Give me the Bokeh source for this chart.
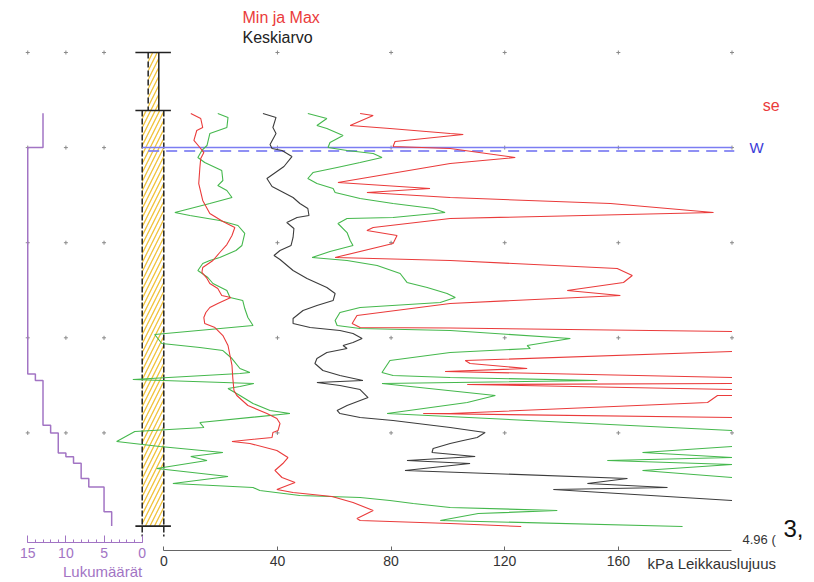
import numpy as np
from bokeh.plotting import figure
from bokeh.models import Range1d, LinearAxis, FixedTicker, SingleIntervalTicker, Label
from bokeh.embed import file_html
from bokeh.resources import INLINE

nan = float("nan")

# ---------------- data (kPa vs depth in m) ----------------
MEAN_KPA = [34.9, 39.5, 38.4, 39.5, 37.4, 38.1, 41.6, 45.1, 42.3, 36.3,
            38.1, 45.5, 47.9, 50.7, 51.1, 46.9, 43.3, 45.8, 45.5, 44.8,
            40.9, 38.8, 40.9, 45.5, 50.4, 57.4, 60.3, 59.6, 53.9, 49.0,
            45.5, 45.5, 51.5, 62.0, 66.6, 69.8, 66.6, 63.1, 64.5, 57.4,
            53.9, 53.2, 56.0, 62.0, 70.1, 53.9, 62.0, 69.1, 71.9, 64.5,
            61.0, 62.0, 69.1, 80.7, 100.8, 113.1, 110.3, 105.4, 100.8, 94.8,
            94.4, 109.6, 85.6, 107.8, 84.9, 163.2, 149.1, 177.3, 137.1, 200.0]
MEAN_DEPTH = [0.641, 0.683, 0.789, 0.852, 0.967, 1.009, 1.030, 1.094, 1.199, 1.325,
              1.409, 1.525, 1.588, 1.640, 1.714, 1.735, 1.788, 1.851, 1.945, 2.029,
              2.082, 2.135, 2.177, 2.292, 2.376, 2.471, 2.534, 2.608, 2.660, 2.713,
              2.797, 2.850, 2.892, 2.923, 2.955, 3.007, 3.049, 3.081, 3.113, 3.155,
              3.218, 3.270, 3.344, 3.396, 3.449, 3.470, 3.502, 3.544, 3.628, 3.712,
              3.764, 3.796, 3.838, 3.870, 3.943, 3.996, 4.048, 4.080, 4.111, 4.164,
              4.206, 4.248, 4.290, 4.322, 4.395, 4.479, 4.532, 4.574, 4.595, 4.711]

MIN_KPA = [9.5, 13.0, 13.7, 11.6, 10.6, 12.7, 14.1, 13.0, 12.7, 12.3,
           13.7, 16.2, 20.8, 25.0, 24.0, 22.2, 19.7, 17.3, 13.7, 13.4,
           15.2, 16.2, 19.0, 20.4, 23.6, 19.0, 16.2, 14.8, 14.1, 14.4,
           18.0, 20.8, 22.6, 23.3, 24.0, 24.3, 24.7, 25.7, 29.6, 36.3,
           39.8, 40.9, 40.2, 38.4, 38.1, 24.0, 30.3, 39.8, 43.7, 41.9,
           39.1, 41.6, 46.2, 39.8, 45.5, 59.2, 66.6, 73.7, 68.0, 69.1,
           100.8, 125.8]
MIN_DEPTH = [0.641, 0.694, 0.789, 0.820, 0.925, 0.999, 1.052, 1.115, 1.209, 1.378,
             1.556, 1.693, 1.777, 1.840, 1.924, 2.019, 2.103, 2.187, 2.261, 2.313,
             2.376, 2.429, 2.482, 2.555, 2.576, 2.639, 2.681, 2.734, 2.787, 2.850,
             2.892, 2.976, 3.081, 3.186, 3.291, 3.428, 3.554, 3.607, 3.712, 3.796,
             3.849, 3.901, 3.975, 3.996, 4.048, 4.090, 4.111, 4.185, 4.259, 4.322,
             4.395, 4.469, 4.522, 4.595, 4.627, 4.669, 4.732, 4.816, 4.900, 4.921,
             4.953, 4.984]

MAX_KPA = [69.1, 73.7, 68.0, 65.6, 79.6, 100.8, 105.4, 81.4, 80.7, 100.8,
           123.7, 100.8, 61.3, 93.7, 71.5, 100.8, 157.2, 193.5, 100.8, 73.7,
           71.5, 82.1, 80.7, 60.3, 100.8, 159.6, 164.9, 161.8, 142.0, 160.7,
           100.8, 68.0, 66.3, 69.1, 100.8, 200.0, nan, 200.0, 106.1, 107.8,
           127.9, 99.0, 200.0, nan, 200.0, 106.8, 200.0, nan, 200.0, 194.9,
           191.4, 100.8, 91.3, 200.0]
MAX_DEPTH = [0.641, 0.662, 0.736, 0.768, 0.799, 0.852, 0.862, 0.936, 0.988, 1.009,
             1.104, 1.167, 1.367, 1.430, 1.472, 1.525, 1.588, 1.682, 1.746, 1.840,
             1.872, 1.924, 2.008, 2.156, 2.187, 2.271, 2.345, 2.418, 2.503, 2.555,
             2.639, 2.765, 2.850, 2.892, 2.897, 2.934, nan, 3.144, 3.239, 3.270,
             3.323, 3.354, 3.417, nan, 3.481, 3.491, 3.544, nan, 3.607, 3.607,
             3.680, 3.796, 3.796, 3.838]

LOW_KPA = [19.0, 22.6, 22.2, 16.2, 15.2, 13.4, 12.0, 14.4, 20.4, 20.8,
           19.0, 22.2, 24.0, 16.2, 3.9, 9.2, 19.7, 26.1, 28.5, 27.5,
           25.4, 19.7, 16.2, 13.7, 12.0, 15.5, 17.3, 22.2, 23.3, 27.8,
           28.5, 29.6, 31.4, -3.2, -0.7, 12.7, 20.8, 24.0, 26.8, 30.3,
           26.8, -10.9, 31.7, 26.8, 22.6, 26.8, 31.4, 37.4, 44.4, 12.7,
           14.1, -10.2, -16.6, -1.4, 20.8, 9.5, 15.2, -2.5, 22.6, 3.2,
           31.4, 33.8, 47.9, 69.1, 79.6, 87.8, 100.8, 138.5, 110.7, 97.3,
           182.6]
LOW_DEPTH = [0.641, 0.683, 0.789, 0.852, 0.978, 1.030, 1.104, 1.157, 1.241, 1.346,
             1.399, 1.451, 1.525, 1.588, 1.682, 1.714, 1.767, 1.819, 1.903, 2.029,
             2.082, 2.156, 2.187, 2.219, 2.292, 2.366, 2.429, 2.503, 2.576, 2.608,
             2.692, 2.787, 2.871, 2.965, 3.060, 3.102, 3.134, 3.218, 3.323, 3.365,
             3.375, 3.438, 3.481, 3.512, 3.533, 3.607, 3.691, 3.764, 3.796, 3.891,
             3.943, 3.985, 4.090, 4.143, 4.206, 4.248, 4.290, 4.374, 4.458, 4.532,
             4.574, 4.606, 4.658, 4.679, 4.711, 4.742, 4.784, 4.816, 4.848, 4.921,
             4.984]

HIGH_KPA = [50.7, 57.4, 53.9, 57.4, 63.1, 58.5, 57.8, 64.5, 73.7, 76.8,
            69.1, 61.0, 52.5, 50.7, 53.9, 59.6, 60.3, 69.1, 80.7, 94.8,
            99.0, 80.7, 64.5, 61.3, 64.5, 65.6, 66.6, 58.5, 52.2, 64.5,
            75.1, 83.2, 85.6, 92.7, 99.7, 102.6, 97.3, 69.1, 62.0, 60.3,
            61.0, 69.1, 100.8, 143.1, 127.9, 129.0, 100.8, 79.6, 76.8, 80.7,
            100.8, 152.6, 76.8, 116.7, 106.8, 78.6, 200.0, nan, 200.0, 168.5,
            200.0, 156.1, 200.0, 168.5, 200.0]
HIGH_DEPTH = [0.641, 0.694, 0.768, 0.799, 0.873, 0.946, 0.999, 1.030, 1.062, 1.104,
              1.157, 1.209, 1.262, 1.325, 1.377, 1.430, 1.472, 1.535, 1.588, 1.640,
              1.682, 1.735, 1.746, 1.798, 1.893, 1.977, 2.029, 2.092, 2.156, 2.187,
              2.240, 2.324, 2.418, 2.471, 2.534, 2.576, 2.629, 2.681, 2.734, 2.818,
              2.871, 2.902, 2.923, 3.007, 3.081, 3.113, 3.155, 3.239, 3.365, 3.396,
              3.417, 3.449, 3.481, 3.607, 3.680, 3.796, 3.975, nan, 4.143, 4.206,
              4.259, 4.290, 4.332, 4.395, 4.469]

# number of soundings per depth interval
COUNT_DEPTH = [0.64, 1.00, 3.38, 3.45, 3.92, 4.00, 4.21, 4.25, 4.32, 4.48, 4.57, 4.83, 4.98]
COUNT_N = [13, 15, 14, 13, 12, 11, 10, 9, 8, 7, 5, 4]

KPA_TICKS = [0, 40, 80, 120, 160]
GRID_KPA = [40, 80, 120, 160, 200]
GRID_COUNT = [5, 10, 15]
GRID_DEPTH = [0, 1, 2, 3, 4]

WATER_DEPTH = 1.0
CASING_TOP = 0.0
SOIL_TOP = 0.61
BOTTOM_DEPTH = 4.98
BOTTOM_LABEL = "4.96 ("
KPA_MAX = 200.0

# ---------------- styles / layout ----------------
RED = "#ea3b3b"
GREEN = "#45b84d"
BLACK = "#3c3c3c"
BLUE = "#7b7df2"
PURPLE = "#a274c4"
HATCH = "#f0c23a"
FONT = "Liberation Sans"

COL_X0, COL_X1 = -7.6, 0.0        # soil column (kPa units)
CAS_X0, CAS_X1 = -5.5, -1.76      # upper casing
CAP_X0, CAP_X1 = -10.0, 2.5
EDGE_END = 5.09

def arr(v):
    return np.array(v, dtype=float)

p = figure(width=814, height=582,
           x_range=Range1d(-57.48, 229.04), y_range=Range1d(5.573, -0.5468),
           output_backend="svg", toolbar_location=None,
           x_axis_location=None, y_axis_location=None,
           min_border_left=0, min_border_right=0, min_border_top=0, min_border_bottom=0)
p.extra_x_ranges = {"count": Range1d(18.57, -88.11)}
p.outline_line_color = None
p.xgrid.visible = False
p.ygrid.visible = False
p.background_fill_color = "white"
p.border_fill_color = "white"

# soil column with hatch
p.quad(left=[COL_X0], right=[COL_X1], top=[SOIL_TOP], bottom=[BOTTOM_DEPTH],
       fill_color="white", line_color=None, hatch_pattern="/", hatch_color=HATCH,
       hatch_scale=9, hatch_weight=1.3)
p.quad(left=[CAS_X0], right=[CAS_X1], top=[CASING_TOP], bottom=[SOIL_TOP],
       fill_color="white", line_color=None, hatch_pattern="/", hatch_color=HATCH,
       hatch_scale=9, hatch_weight=1.3)
p.segment(x0=[COL_X0, COL_X1], y0=[SOIL_TOP, SOIL_TOP], x1=[COL_X0, COL_X1], y1=[EDGE_END, EDGE_END],
          line_color="#222222", line_width=1.5, line_dash="6 2")
p.segment(x0=[CAS_X0], y0=[CASING_TOP], x1=[CAS_X0], y1=[SOIL_TOP],
          line_color="#222222", line_width=1.5, line_dash="6 3")
p.segment(x0=[CAS_X1], y0=[CASING_TOP], x1=[CAS_X1], y1=[SOIL_TOP],
          line_color="#222222", line_width=1.5)
caps = [CASING_TOP, SOIL_TOP, BOTTOM_DEPTH]
p.segment(x0=[CAP_X0] * 3, y0=caps, x1=[CAP_X1] * 3, y1=caps, line_color="#222222", line_width=1.6)

# grid marks
gx, gy = np.meshgrid(GRID_KPA, GRID_DEPTH)
p.scatter(gx.ravel(), gy.ravel(), marker="cross", size=4, line_color="#8a8a8a", line_width=1)
cx, cy = np.meshgrid(GRID_COUNT, GRID_DEPTH)
p.scatter(cx.ravel(), cy.ravel(), marker="cross", size=4, line_color="#8a8a8a", line_width=1,
          x_range_name="count")

# water level
p.segment(x0=[COL_X0], y0=[WATER_DEPTH], x1=[KPA_MAX], y1=[WATER_DEPTH], line_color=BLUE, line_width=1.5)
p.segment(x0=[CAS_X0], y0=[WATER_DEPTH + 0.035], x1=[KPA_MAX + 0.8], y1=[WATER_DEPTH + 0.035],
          line_color=BLUE, line_width=2, line_dash="11 7", line_alpha=0.85)

# curves
p.line(arr(LOW_KPA), arr(LOW_DEPTH), line_color=GREEN, line_width=1.1)
p.line(arr(HIGH_KPA), arr(HIGH_DEPTH), line_color=GREEN, line_width=1.1)
p.line(arr(MIN_KPA), arr(MIN_DEPTH), line_color=RED, line_width=1.1)
p.line(arr(MAX_KPA), arr(MAX_DEPTH), line_color=RED, line_width=1.1)
p.line(arr(MEAN_KPA), arr(MEAN_DEPTH), line_color=BLACK, line_width=1.1)

# count step line
sx, sy = [], []
for i, n in enumerate(COUNT_N):
    sx += [n, n]
    sy += [COUNT_DEPTH[i], COUNT_DEPTH[i + 1]]
p.line(sx, sy, line_color=PURPLE, line_width=1.5, x_range_name="count")

# axes
ax_k = LinearAxis(fixed_location=5.237, bounds=(0, KPA_MAX), ticker=FixedTicker(ticks=KPA_TICKS, minor_ticks=[]),
                  axis_line_color="#666666", major_tick_line_color="#666666",
                  major_tick_in=4, major_tick_out=0, minor_tick_line_color=None,
                  major_label_text_font=FONT, major_label_text_font_size="14px",
                  major_label_text_color="#333333", major_label_standoff=5)
p.add_layout(ax_k, "below")

ax_c = LinearAxis(x_range_name="count", fixed_location=5.149, bounds=(0, 15),
                  ticker=SingleIntervalTicker(interval=5, num_minor_ticks=5),
                  axis_line_color=PURPLE, major_tick_line_color=PURPLE, minor_tick_line_color=PURPLE,
                  major_tick_in=7, major_tick_out=0, minor_tick_in=3, minor_tick_out=0,
                  major_label_text_font=FONT, major_label_text_font_size="14px",
                  major_label_text_color=PURPLE, major_label_standoff=6)
p.add_layout(ax_c, "below")

# texts
def lab(x, y, text, color, size, align="left", rng="default"):
    p.add_layout(Label(x=x, y=y, text=text, text_color=color, text_font=FONT,
                       text_font_size=size, text_baseline="middle", text_align=align,
                       x_range_name=rng))

lab(27.7, -0.368, "Min ja Max", RED, "16px")
lab(27.7, -0.158, "Keskiarvo", "#222222", "16px")
lab(170.3, 5.373, "kPa Leikkauslujuus", "#333333", "15px")
lab(0, 5.457, "Lukumäärät", PURPLE, "15px", align="right", rng="count")
lab(206.2, 1.0, "W", "#3b3bd8", "15px")
lab(210.8, 0.557, "se", RED, "16px")
lab(203.7, 5.121, BOTTOM_LABEL, "#333333", "13px")
lab(218.1, 5.0, "3,", "#111111", "24px")

open("out.html", "w").write(file_html(p, INLINE))
